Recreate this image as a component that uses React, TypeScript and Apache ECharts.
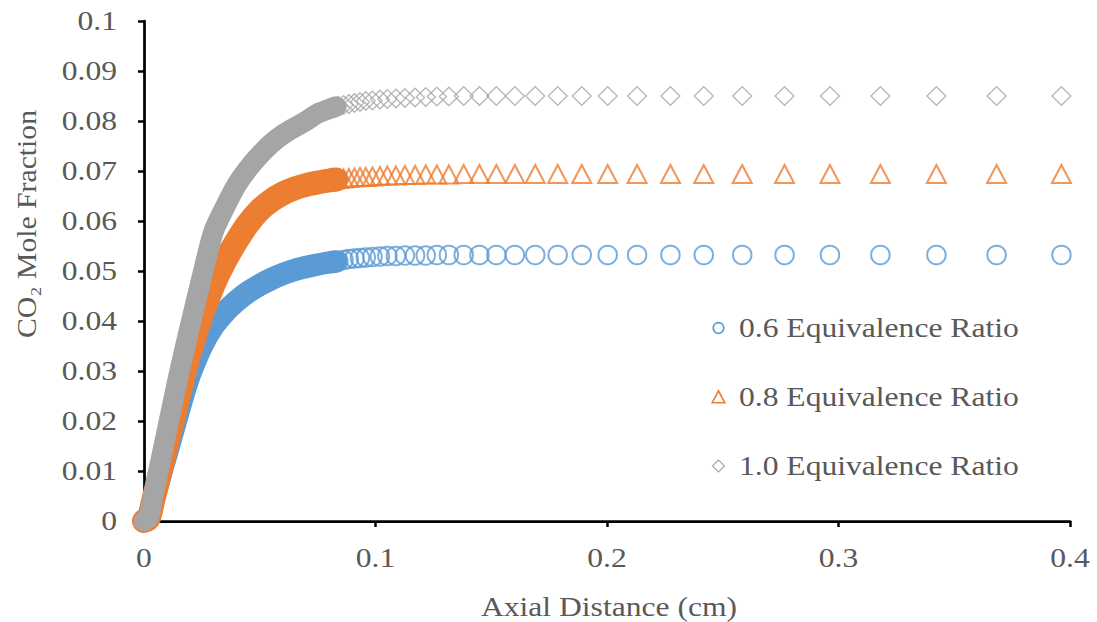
import React, { useEffect, useRef } from "react";
import * as echarts from "echarts";

// Shared axial positions of the dense (overlapping) region, cm
const bandX = [0, 0.002, 0.004, 0.006, 0.008, 0.01, 0.0125, 0.015, 0.0175, 0.02, 0.025, 0.03, 0.035, 0.04, 0.045, 0.05, 0.055, 0.06, 0.065, 0.07, 0.075, 0.08, 0.083];
const bandBlue = [0, 0.0008, 0.0041, 0.0073, 0.0106, 0.0138, 0.0179, 0.022, 0.026, 0.0295, 0.035, 0.039, 0.0418, 0.044, 0.0458, 0.0472, 0.0484, 0.0494, 0.0502, 0.0508, 0.0513, 0.0517, 0.0519];
const bandOrange = [0, 0.0005, 0.0042, 0.0079, 0.0117, 0.0155, 0.0202, 0.025, 0.0297, 0.034, 0.0412, 0.0472, 0.052, 0.056, 0.0595, 0.0622, 0.0641, 0.0655, 0.0665, 0.0672, 0.0677, 0.0681, 0.0683];
const bandGray = [0, 0.0007, 0.0051, 0.0095, 0.0139, 0.0183, 0.0238, 0.0292, 0.0343, 0.0392, 0.0488, 0.0578, 0.0628, 0.0672, 0.0705, 0.0732, 0.0755, 0.0773, 0.0787, 0.08, 0.0815, 0.0824, 0.0829];

// Shared axial positions of the individually visible markers, cm
const markerX = [0.0694, 0.0704, 0.0716, 0.0728, 0.0741, 0.0755, 0.0769, 0.0785, 0.0803, 0.0821, 0.084, 0.0862, 0.0885, 0.0909, 0.0933, 0.0958, 0.0987, 0.1019, 0.1051, 0.1088, 0.1127, 0.1171, 0.1217, 0.1265, 0.1317, 0.1381, 0.1449, 0.1522, 0.1602, 0.169, 0.1787, 0.1891, 0.2003, 0.213, 0.2274, 0.2418, 0.2584, 0.2767, 0.2963, 0.3181, 0.3423, 0.3683, 0.3963];
const markerBlue = [0.0508, 0.0509, 0.051, 0.0511, 0.0512, 0.0513, 0.0514, 0.0515, 0.0517, 0.0518, 0.052, 0.0522, 0.0524, 0.0525, 0.0526, 0.0527, 0.0528, 0.0529, 0.053, 0.053, 0.0531, 0.0531, 0.0531, 0.0532, 0.0532, 0.0532, 0.0532, 0.0532, 0.0532, 0.0532, 0.0532, 0.0532, 0.0532, 0.0532, 0.0532, 0.0532, 0.0532, 0.0532, 0.0532, 0.0532, 0.0532, 0.0532, 0.0532];
const markerOrange = [0.0672, 0.0674, 0.0675, 0.0676, 0.0677, 0.0678, 0.0679, 0.068, 0.0681, 0.0683, 0.0684, 0.0685, 0.0686, 0.0687, 0.0688, 0.0688, 0.0689, 0.069, 0.0691, 0.0691, 0.0692, 0.0692, 0.0693, 0.0693, 0.0693, 0.0694, 0.0694, 0.0694, 0.0694, 0.0694, 0.0694, 0.0694, 0.0694, 0.0694, 0.0694, 0.0694, 0.0694, 0.0694, 0.0694, 0.0694, 0.0694, 0.0694, 0.0694];
const markerGray = [0.08, 0.0803, 0.0806, 0.0809, 0.0812, 0.0815, 0.0818, 0.0821, 0.0824, 0.0827, 0.083, 0.0832, 0.0834, 0.0836, 0.0838, 0.084, 0.0841, 0.0843, 0.0844, 0.0845, 0.0846, 0.0847, 0.0848, 0.0849, 0.0849, 0.085, 0.085, 0.085, 0.085, 0.085, 0.085, 0.085, 0.085, 0.085, 0.085, 0.085, 0.085, 0.085, 0.085, 0.085, 0.085, 0.085, 0.085];

const seriesNames = ["0.6 Equivalence Ratio", "0.8 Equivalence Ratio", "1.0 Equivalence Ratio"];
const xTicks = [0, 0.1, 0.2, 0.3, 0.4];
const xTickLabels = ["0", "0.1", "0.2", "0.3", "0.4"];
const yTicks = [0, 0.01, 0.02, 0.03, 0.04, 0.05, 0.06, 0.07, 0.08, 0.09, 0.1];
const yTickLabels = ["0", "0.01", "0.02", "0.03", "0.04", "0.05", "0.06", "0.07", "0.08", "0.09", "0.1"];
const xTitle = "Axial Distance (cm)";
const yTitle = "CO\u2082 Mole Fraction";

const FONT = "'Liberation Serif', 'Times New Roman', serif";
const FS = 27;
const STRETCH = 1.17;
const TXT = "#595959";
const BLUE = "#5B9BD5";
const ORANGE = "#ED7D31";
const GRAY = "#A5A5A5";

const zip = (xs: number[], ys: number[]) => xs.map((x, i) => [x, ys[i]]);

export default function App() {
  const ref = useRef<HTMLDivElement>(null);
  useEffect(() => {
    if (!ref.current) return;
    const chart = echarts.init(ref.current, undefined, { renderer: "svg" });
    const band = (ys: number[], color: string, width: number) => ({
      type: "line",
      data: zip(bandX, ys),
      symbol: "none",
      showSymbol: false,
      smooth: 0.3,
      clip: false,
      silent: true,
      lineStyle: { color, width, cap: "round", join: "round" },
      emphasis: { disabled: true },
    });
    const marks = (name: string, ys: number[], color: string, symbol: string, size: any, bw: number) => ({
      type: "scatter",
      name,
      data: zip(markerX, ys),
      symbol,
      symbolSize: size,
      clip: false,
      silent: true,
      itemStyle: { color: "rgba(0,0,0,0)", borderColor: color, borderWidth: bw },
      emphasis: { disabled: true },
    });
    const axisCommon = {
      type: "value",
      axisLine: { show: true, onZero: false, lineStyle: { color: "#000", width: 2.75 } },
      axisTick: { show: true, inside: false, length: 6, lineStyle: { color: "#000", width: 2.5 } },
      axisLabel: { show: false },
      splitLine: { show: false },
    };
    chart.setOption({
      animation: false,
      backgroundColor: "#ffffff",
      grid: { left: 144, right: 27, top: 21, bottom: 101, containLabel: false },
      xAxis: { ...axisCommon, min: 0, max: 0.4, interval: 0.1 },
      yAxis: { ...axisCommon, min: 0, max: 0.1, interval: 0.01 },
      series: [
        band(bandBlue, BLUE, 22.5),
        marks(seriesNames[0], markerBlue, BLUE, "circle", 18.5, 2),
        band(bandOrange, ORANGE, 24),
        marks(seriesNames[1], markerOrange, ORANGE, "triangle", [19, 18], 2),
        band(bandGray, GRAY, 20.5),
        marks(seriesNames[2], markerGray, GRAY, "diamond", [19, 18.5], 1.3),
      ],
    });

    const txt = (text: string, x: number, y: number, align: string, extra: any = {}) => ({
      type: "text",
      x,
      y,
      scaleX: STRETCH,
      silent: true,
      style: { text, fontFamily: FONT, fontSize: FS, fill: TXT, align, verticalAlign: "middle" },
      ...extra,
    });
    const graphics: any[] = [];
    const axisY = chart.convertToPixel({ yAxisIndex: 0 }, 0) as number;
    const axisX = chart.convertToPixel({ xAxisIndex: 0 }, 0) as number;
    xTicks.forEach((v, i) => {
      const px = chart.convertToPixel({ xAxisIndex: 0 }, v) as number;
      graphics.push(txt(xTickLabels[i], px, axisY + 37, "center"));
    });
    yTicks.forEach((v, i) => {
      const py = chart.convertToPixel({ yAxisIndex: 0 }, v) as number;
      graphics.push(txt(yTickLabels[i], axisX - 27, py, "right"));
    });
    const xMid = ((chart.convertToPixel({ xAxisIndex: 0 }, 0) as number) + (chart.convertToPixel({ xAxisIndex: 0 }, 0.4) as number)) / 2;
    graphics.push(txt(xTitle, xMid + 2, axisY + 86, "center"));
    graphics.push(txt(yTitle, 27, 224, "center", { rotation: Math.PI / 2, scaleX: 1.1 }));

    // legend
    const legX = 718.5;
    const legY = [328, 397, 466];
    graphics.push({ type: "circle", silent: true, shape: { cx: legX, cy: legY[0], r: 5.3 }, style: { fill: "none", stroke: BLUE, lineWidth: 1.6 } });
    graphics.push({
      type: "polygon",
      silent: true,
      shape: { points: [[legX - 6.3, legY[1] + 5.8], [legX + 6.3, legY[1] + 5.8], [legX, legY[1] - 6.2]] },
      style: { fill: "none", stroke: ORANGE, lineWidth: 1.6 },
    });
    graphics.push({
      type: "polygon",
      silent: true,
      shape: { points: [[legX - 6, legY[2]], [legX, legY[2] - 6], [legX + 6, legY[2]], [legX, legY[2] + 6]] },
      style: { fill: "none", stroke: GRAY, lineWidth: 1.1 },
    });
    seriesNames.forEach((n, i) => graphics.push(txt(n, 739, legY[i], "left")));

    chart.setOption({ graphic: graphics });
    return () => chart.dispose();
  }, []);
  return <div ref={ref} style={{ width: 1097, height: 622, position: "absolute", left: 0, top: 0 }} />;
}
